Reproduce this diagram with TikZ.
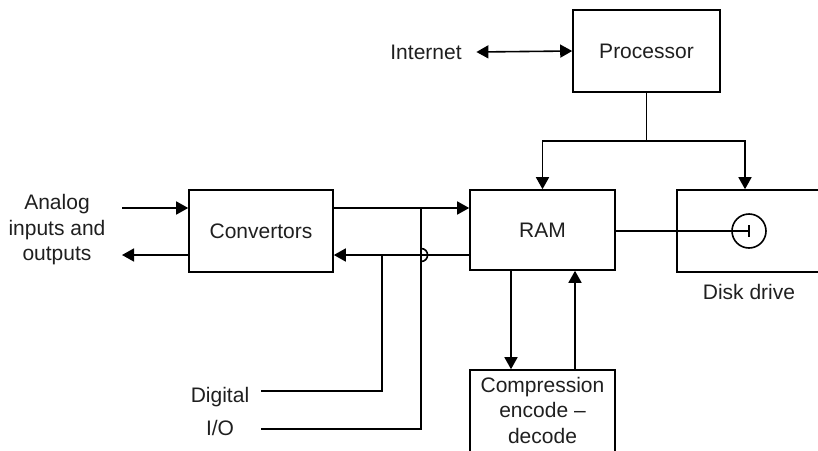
\documentclass[tikz,border=0pt]{standalone}
\usepackage{fontspec}
\setmainfont{Liberation Sans}
\usetikzlibrary{arrows.meta}
\begin{document}
\begin{tikzpicture}[x=1pt,y=-1pt,
  line width=1.6pt,
  every node/.style={font=\fontsize{21}{25.5}\selectfont, text=black!88},
  blk/.style={draw, line width=1.6pt, inner sep=0pt},
  lbl/.style={inner sep=0pt, align=center},
  arr/.style={-{Triangle[length=12pt,width=13pt]}},
  darr/.style={{Triangle[length=12pt,width=13pt]}-{Triangle[length=12pt,width=13pt]}}]
\useasboundingbox (0,0) rectangle (818,450);
\clip (0,0) rectangle (818,450);
% boxes
\node[blk, minimum width=147pt, minimum height=82pt] (proc) at (646.5,51) {Processor};
\node[blk, minimum width=145pt, minimum height=80pt] (ram) at (542.5,230) {RAM};
\node[blk, minimum width=153pt, minimum height=82pt] (disk) at (753.5,231) {};
\node[blk, minimum width=144pt, minimum height=82pt] (conv) at (261,231) {Convertors};
\node[blk, minimum width=145pt, minimum height=100pt] (comp) at (542.5,420) {};
\node[lbl] (comptxt) at (542.5,410) {Compression\\encode –\\decode};
% labels
\node[lbl] (inet) at (426,52) {Internet};
\node[lbl] (analog) at (57,230) {Analog\\inputs and\\outputs};
\node[lbl] (dig) at (220,397) {Digital};
\node[lbl] (io) at (220,428) {I/O};
\node[lbl] (disklbl) at (749,292) {Disk drive};
% disk symbol
\node[draw, circle, line width=1.6pt, minimum size=34pt, inner sep=0pt] (platter) at (749,231) {};
\draw (ram.east |- platter) -- (platter.center);
\draw ([yshift=6pt]platter.center) -- ([yshift=-6pt]platter.center);
% internet
\draw[darr] ([xshift=14pt]inet.east) -- (proc.west);
% processor to RAM / disk
\coordinate (j) at (proc.south |- 0,141);
\draw (proc.south) -- (j);
\draw[arr] (j) -| (ram.north);
\draw[arr] (j) -| ([xshift=-8.5pt]disk.north);
% analog
\coordinate (ain) at (122,208);
\coordinate (aout) at (122,255);
\draw[arr] (ain) -- (conv.west |- ain);
\draw[arr] (conv.west |- aout) -- (aout);
% convertors <-> RAM
\draw[arr] (conv.east |- ain) -- (ram.west |- ain);
\draw[arr] (ram.west |- aout) -- (conv.east |- aout);
% digital I/O
\coordinate (d1) at (261,391);
\coordinate (d2) at (261,429);
\coordinate (v1) at (382,255);
\coordinate (v2) at (421,208);
\draw (d1) -| (v1);
\draw (d2) -| (v2);
\draw (421,248.5) .. controls (429.7,248.5) and (429.7,261.5) .. (421,261.5);
% RAM <-> compression
\draw[arr] ([xshift=-31.5pt]ram.south) -- ([xshift=-31.5pt]comp.north);
\draw[arr] ([xshift=32.5pt]comp.north) -- ([xshift=32.5pt]ram.south);
\end{tikzpicture}
\end{document}
